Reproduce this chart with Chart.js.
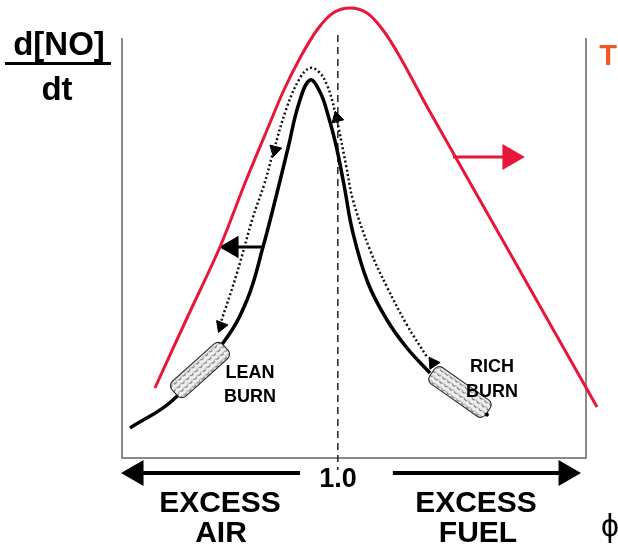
<!DOCTYPE html>
<html>
<head>
<meta charset="utf-8">
<script src="https://cdn.jsdelivr.net/npm/chart.js@4/dist/chart.umd.min.js"></script>
<style>
  body { margin: 0; background: #fff; }
  #wrap { width: 618px; height: 549px; }
</style>
</head>
<body>
<div id="wrap"><canvas id="noChart" width="618" height="549"></canvas></div>
<script>
// equivalence ratio (phi) and relative values
const phiT = [0.661, 0.7205, 0.7816, 0.828, 0.8688, 0.8984, 0.9299, 0.9614, 0.9911, 1.0226, 1.0541, 1.0837, 1.1153, 1.1709, 1.3284, 1.4804];
const tempT = [17.5, 35, 52.75, 68.75, 82, 91.5, 100, 107, 111.25, 112.5, 111.25, 107, 100.25, 86.5, 49, 12.75];

const phiNO = [0.6148, 0.6945, 0.7872, 0.8317, 0.8613, 0.8854, 0.9077, 0.9281, 0.9484, 0.967, 0.9818, 0.9966, 1.0115, 1.0281, 1.0559, 1.0912, 1.1282, 1.1709];
const rateNO = [7.5, 14.5, 28.75, 39.5, 52.75, 65.25, 77.5, 88.75, 94.5, 91.5, 85.75, 78.25, 68.25, 56.25, 43.75, 34.5, 27.5, 21.25];

// dotted path (rich -> peak -> lean)
const phiPath = [0.7816, 0.8131, 0.8428, 0.8632, 0.8799, 0.9058, 0.9299, 0.9484, 0.9651, 0.98, 0.9948, 1.0152, 1.0281, 1.0597, 1.0912, 1.1282, 1.1653];
const ratePath = [33.25, 46.25, 60.25, 68.25, 76.25, 87.75, 95, 97.5, 96.5, 93.25, 86.5, 73.25, 64.5, 52, 42.75, 33.25, 25.25];
const headPhi = [0.8836, 0.7835, 0.9985, 1.1764];
const headRate = [77, 33, 85, 23.75];
const headAngle = [194, 201, 345, 326];

// stoichiometric line
const stoichPhi = [1.0, 1.0];
const stoichRate = [105.75, -3];

// arrows
const airArrowPhi = [0.861, 0.804];
const airArrowRate = [52.75, 52.75];
const tArrowPhi = [1.2135, 1.319];
const tArrowRate = [75.25, 75.25];
const leftArrowPhi = [0.930, 0.626];
const rightArrowPhi = [1.102, 1.423];
const axisArrowRate = [-3.75, -3.75];

// catalyst (lean / rich burn) positions
const catPhi = [0.7446, 1.2264];
const catRate = [22, 16.5];
const catAngle = [-42, 35];
const catLabel = [['LEAN', 'BURN'], ['RICH', 'BURN']];
const catLabelPhi = [0.8372, 1.2858];
const catLabelRate = [[20, 14], [21.5, 15.25]];

// plotted frame: phi 0.6 .. 1.46, rate 0 .. 105
const frameX = [0.6, 1.46];
const frameY = [0, 105];

function pts(xs, ys) {
    return xs.map((x, i) => ({ x: x, y: ys[i] }));
}

const FONT = "'Liberation Sans', Arial, sans-serif";

// small scale-like texture for the catalyst bricks
const pat = document.createElement('canvas');
pat.width = 6; pat.height = 5;
const pc = pat.getContext('2d');
pc.fillStyle = '#eeeeee';
pc.fillRect(0, 0, 6, 5);
pc.strokeStyle = '#555';
pc.lineWidth = 1;
pc.beginPath();
pc.arc(3, 1, 2.6, 0.15 * Math.PI, 0.85 * Math.PI);
pc.stroke();

function roundRectPath(ctx, x, y, w, h, r) {
    ctx.beginPath();
    ctx.moveTo(x + r, y);
    ctx.lineTo(x + w - r, y);
    ctx.arcTo(x + w, y, x + w, y + r, r);
    ctx.lineTo(x + w, y + h - r);
    ctx.arcTo(x + w, y + h, x + w - r, y + h, r);
    ctx.lineTo(x + r, y + h);
    ctx.arcTo(x, y + h, x, y + h - r, r);
    ctx.lineTo(x, y + r);
    ctx.arcTo(x, y, x + r, y, r);
    ctx.closePath();
}

const diagramPlugin = {
    id: 'diagram',
    beforeDatasetsDraw(chart) {
        const ctx = chart.ctx;
        const xs = chart.scales.x, ys = chart.scales.y;
        const l = xs.getPixelForValue(frameX[0]), r = xs.getPixelForValue(frameX[1]);
        const b = ys.getPixelForValue(frameY[0]), t = ys.getPixelForValue(frameY[1]);
        ctx.save();
        ctx.strokeStyle = '#666';
        ctx.lineWidth = 1.5;
        ctx.beginPath();
        ctx.moveTo(l, t);
        ctx.lineTo(l, b);
        ctx.lineTo(r, b);
        ctx.lineTo(r, t);
        ctx.stroke();
        ctx.restore();
    },
    afterDatasetsDraw(chart) {
        const ctx = chart.ctx;
        const xs = chart.scales.x, ys = chart.scales.y;
        ctx.save();
        catPhi.forEach((p, i) => {
            const cx = xs.getPixelForValue(p), cy = ys.getPixelForValue(catRate[i]);
            ctx.save();
            ctx.translate(cx, cy);
            ctx.rotate(catAngle[i] * Math.PI / 180);
            roundRectPath(ctx, -34, -10, 68, 20, 6);
            ctx.fillStyle = ctx.createPattern(pat, 'repeat');
            ctx.fill();
            ctx.strokeStyle = '#333';
            ctx.lineWidth = 1.2;
            ctx.stroke();
            if (i === 1) {
                ctx.fillStyle = '#000';
                ctx.beginPath();
                ctx.arc(35, 3, 2, 0, Math.PI * 2);
                ctx.fill();
            }
            ctx.restore();

            ctx.fillStyle = '#000';
            ctx.font = 'bold 18px ' + FONT;
            ctx.textAlign = 'center';
            ctx.textBaseline = 'alphabetic';
            const lx = xs.getPixelForValue(catLabelPhi[i]);
            catLabel[i].forEach((t, j) => {
                ctx.fillText(t, lx, ys.getPixelForValue(catLabelRate[i][j]));
            });
        });
        ctx.restore();
    },
    afterDraw(chart) {
        const ctx = chart.ctx;
        ctx.save();
        ctx.fillStyle = '#000';
        ctx.textAlign = 'center';
        ctx.textBaseline = 'alphabetic';

        // y axis title: d[NO]/dt
        ctx.font = 'bold 33px ' + FONT;
        ctx.fillText('d[NO]', 59, 55);
        ctx.fillRect(5, 62, 106, 3);
        ctx.fillText('dt', 57, 100);

        // right axis title
        ctx.fillStyle = '#F05A22';
        ctx.font = 'bold 29px ' + FONT;
        ctx.fillText('T', 608, 65);

        ctx.fillStyle = '#000';
        ctx.font = 'bold 27px ' + FONT;
        ctx.fillText('1.0', 338, 487);

        ctx.font = 'bold 30px ' + FONT;
        ctx.fillText('EXCESS', 220, 512);
        ctx.fillText('AIR', 221, 542);
        ctx.fillText('EXCESS', 476, 512);
        ctx.fillText('FUEL', 478, 542);

        ctx.font = '32px ' + FONT;
        ctx.textBaseline = 'middle';
        ctx.fillText('\u03D5', 610, 527);
        ctx.restore();
    }
};

const lineBase = {
    showLine: true,
    pointRadius: 0,
    clip: false,
    fill: false
};

new Chart(document.getElementById('noChart'), {
    type: 'scatter',
    data: {
        datasets: [
            Object.assign({}, lineBase, {
                label: 'T',
                data: pts(phiT, tempT),
                borderColor: '#E8173A',
                borderWidth: 3,
                tension: 0.3
            }),
            Object.assign({}, lineBase, {
                label: 'd[NO]/dt',
                data: pts(phiNO, rateNO),
                borderColor: '#000',
                borderWidth: 3.5,
                tension: 0.4
            }),
            Object.assign({}, lineBase, {
                label: 'path',
                data: pts(phiPath, ratePath),
                borderColor: '#111',
                borderWidth: 2.5,
                borderDash: [2, 2.5],
                tension: 0.4
            }),
            {
                label: 'path heads',
                data: pts(headPhi, headRate),
                showLine: false,
                clip: false,
                pointStyle: 'triangle',
                pointRadius: 7,
                pointRotation: headAngle,
                pointBackgroundColor: '#000',
                pointBorderColor: '#000',
                pointBorderWidth: 1
            },
            Object.assign({}, lineBase, {
                label: 'phi = 1',
                data: pts(stoichPhi, stoichRate),
                borderColor: '#222',
                borderWidth: 1.5,
                borderDash: [7, 5]
            }),
            Object.assign({}, lineBase, {
                label: 'air arrow',
                data: pts(airArrowPhi, airArrowRate),
                borderColor: '#000',
                borderWidth: 3,
                pointStyle: 'triangle',
                pointRadius: [0, 10],
                pointRotation: [0, 270],
                pointBackgroundColor: '#000',
                pointBorderColor: '#000'
            }),
            Object.assign({}, lineBase, {
                label: 'T arrow',
                data: pts(tArrowPhi, tArrowRate),
                borderColor: '#E8173A',
                borderWidth: 3,
                pointStyle: 'triangle',
                pointRadius: [0, 12],
                pointRotation: [0, 90],
                pointBackgroundColor: '#E8173A',
                pointBorderColor: '#E8173A'
            }),
            Object.assign({}, lineBase, {
                label: 'excess air',
                data: pts(leftArrowPhi, axisArrowRate),
                borderColor: '#000',
                borderWidth: 4,
                pointStyle: 'triangle',
                pointRadius: [0, 11],
                pointRotation: [0, 270],
                pointBackgroundColor: '#000',
                pointBorderColor: '#000'
            }),
            Object.assign({}, lineBase, {
                label: 'excess fuel',
                data: pts(rightArrowPhi, axisArrowRate),
                borderColor: '#000',
                borderWidth: 4,
                pointStyle: 'triangle',
                pointRadius: [0, 11],
                pointRotation: [0, 90],
                pointBackgroundColor: '#000',
                pointBorderColor: '#000'
            })
        ]
    },
    options: {
        responsive: false,
        animation: false,
        events: [],
        layout: { padding: 0, autoPadding: false },
        scales: {
            // full canvas: 0.86 phi per 464 px, 4 px per rate unit
            x: { type: 'linear', min: 0.373879, max: 1.519310, display: false },
            y: { type: 'linear', min: -22.75, max: 114.5, display: false }
        },
        plugins: {
            legend: { display: false },
            tooltip: { enabled: false }
        }
    },
    plugins: [diagramPlugin]
});
</script>
</body>
</html>
